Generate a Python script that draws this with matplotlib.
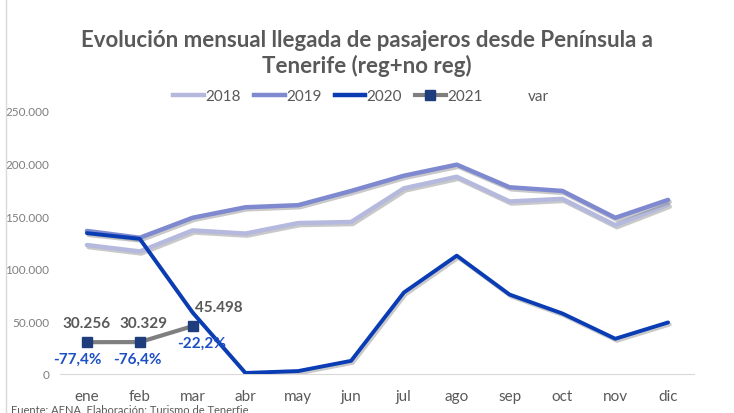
import numpy as np
import matplotlib.pyplot as plt
import matplotlib.patheffects as pe
from matplotlib.lines import Line2D

plt.rcParams['font.family'] = ['Lato', 'DejaVu Sans']

# Data
months = ["ene", "feb", "mar", "abr", "may", "jun", "jul", "ago", "sep", "oct", "nov", "dic"]
y2018 = [122600, 116500, 136500, 133500, 143500, 144500, 176500, 187500, 164000, 166500, 141500, 161000]
y2019 = [136000, 129500, 148500, 158500, 160500, 174000, 188500, 199000, 177500, 174000, 148500, 165500]
y2020 = [133900, 128500, 58480, 1000, 2800, 12500, 77500, 112500, 75500, 57500, 33500, 49000]
y2021 = [30256, 30329, 45498]
var = [-77.4, -76.4, -22.2]
labels_2021 = ["30.256", "30.329", "45.498"]

c2018 = "#B4B9DD"
c2019 = "#7E89CF"
c2020 = "#0A3CB4"
c2021 = "#7F7F7F"
cmark = "#1F3D7D"
ctext = "#595959"

fig = plt.figure(figsize=(7.34, 4.14), dpi=100)
ax = fig.add_axes([60.5 / 734, 39 / 414, 634 / 734, 263 / 414])

x = np.arange(len(months))
shadow = [pe.SimpleLineShadow(offset=(1.2, -1.5), shadow_color="#888888", alpha=0.45), pe.Normal()]

ax.plot(x, y2018, color=c2018, lw=3.2, solid_capstyle="round", path_effects=shadow, label="2018", zorder=2)
ax.plot(x, y2019, color=c2019, lw=3.2, solid_capstyle="round", path_effects=shadow, label="2019", zorder=3)
ax.plot(x, y2020, color=c2020, lw=2.8, solid_capstyle="round", path_effects=shadow, label="2020", zorder=4)
ax.plot(x[:3], y2021, color=c2021, lw=3.0, marker="s", markersize=7, markerfacecolor=cmark,
        markeredgecolor=cmark, label="2021", zorder=5)

val_off = [(0, 14), (3, 14), (19, 14)]
var_off = [(-7, -12), (-1.5, -12), (6.5, -12)]
for i in range(3):
    ax.annotate(labels_2021[i], (x[i], y2021[i]), xytext=val_off[i], textcoords="offset points",
                ha="center", va="center", fontsize=11, fontweight="bold", color=ctext, zorder=6)
    ax.annotate(("%.1f%%" % var[i]).replace(".", ","), (x[i], y2021[i]), xytext=var_off[i],
                textcoords="offset points", ha="center", va="center", fontsize=11, fontweight="bold",
                color="#1D4FC4", zorder=6)

ax.set_xlim(-0.5, 11.5)
ax.set_ylim(0, 250000)
ax.set_xticks(x)
ax.set_xticklabels(months, fontsize=11, color=ctext)
yt = np.arange(0, 250001, 50000)
ax.set_yticks(yt)
ax.set_yticklabels(["0" if v == 0 else "{:,}".format(v).replace(",", ".") for v in yt],
                   fontsize=8.5, color="#7F7F7F")
ax.tick_params(axis="both", length=0)
ax.tick_params(axis="x", pad=11)
ax.tick_params(axis="y", pad=8)
for s in ["top", "right", "left"]:
    ax.spines[s].set_visible(False)
ax.spines["bottom"].set_color("#D9D9D9")

# legend
handles = [
    Line2D([], [], color=c2018, lw=3.2),
    Line2D([], [], color=c2019, lw=3.2),
    Line2D([], [], color=c2020, lw=3.2),
    Line2D([], [], color=c2021, lw=3.0, marker="s", markersize=7, markerfacecolor=cmark, markeredgecolor=cmark),
    Line2D([], [], color="none"),
]
fig.legend(handles, ["2018", "2019", "2020", "2021", "var"], loc="center", bbox_to_anchor=(0.492, 0.766),
           ncol=5, frameon=False, fontsize=11, labelcolor=ctext, handlelength=2.0, handletextpad=0.1,
           columnspacing=0.85)

fig.text(0.5, 0.87, "Evolución mensual llegada de pasajeros desde Península a\nTenerife (reg+no reg)",
         ha="center", va="center", fontsize=16, fontweight="bold", color=ctext, linespacing=1.2)
fig.text(0.015, -0.006, "Fuente: AENA. Elaboración: Turismo de Tenerfie", ha="left", va="bottom",
         fontsize=8, color=ctext)

# left border of chart area
fig.add_artist(Line2D([6 / 734, 6 / 734], [0, 1], color="#D9D9D9", lw=1))

fig.savefig("out.png", dpi=100)
